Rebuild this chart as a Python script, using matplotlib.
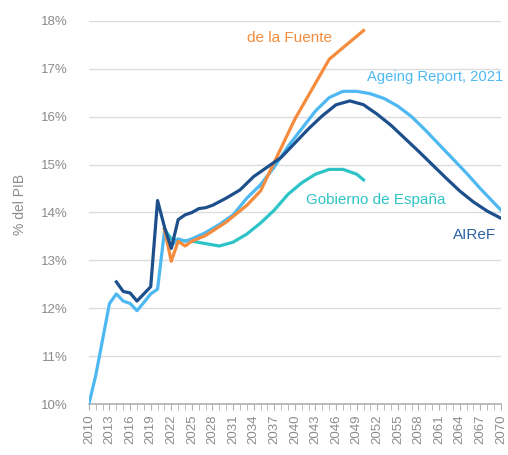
import matplotlib
matplotlib.use("Agg")
import matplotlib.pyplot as plt
from matplotlib.ticker import MultipleLocator, FuncFormatter

plt.rcParams['font.family'] = ['Liberation Sans', 'DejaVu Sans']

# Ageing Report, 2021
years_ar = [2010, 2011, 2012, 2013, 2014, 2015, 2016, 2017, 2018, 2019, 2020, 2021,
            2022, 2023, 2024, 2025, 2027, 2029, 2031, 2033, 2035, 2037, 2039, 2041,
            2043, 2045, 2047, 2049, 2051, 2053, 2055, 2057, 2059, 2061, 2063, 2065,
            2067, 2069, 2070]
vals_ar = [10.0, 10.6, 11.35, 12.1, 12.3, 12.15, 12.1, 11.95, 12.12, 12.3, 12.4, 13.6,
           13.3, 13.45, 13.4, 13.45, 13.58, 13.75, 13.95, 14.3, 14.58, 14.95, 15.38, 15.75,
           16.12, 16.4, 16.53, 16.53, 16.48, 16.38, 16.22, 16.0, 15.72, 15.42, 15.12, 14.82,
           14.5, 14.2, 14.05]

# AIReF
years_airef = [2014, 2015, 2016, 2017, 2018, 2019, 2020, 2021, 2022, 2023, 2024, 2025,
               2026, 2027, 2028, 2030, 2032, 2034, 2036, 2038, 2040, 2042, 2044, 2046,
               2048, 2050, 2052, 2054, 2056, 2058, 2060, 2062, 2064, 2066, 2068, 2070]
vals_airef = [12.55, 12.35, 12.32, 12.15, 12.3, 12.45, 14.25, 13.7, 13.25, 13.85, 13.95, 14.0,
              14.08, 14.1, 14.15, 14.3, 14.47, 14.75, 14.95, 15.15, 15.45, 15.75, 16.02, 16.25,
              16.33, 16.25, 16.05, 15.82, 15.55, 15.28, 15.0, 14.72, 14.45, 14.22, 14.03, 13.88]

# de la Fuente
years_fu = [2021, 2022, 2023, 2024, 2025, 2027, 2030, 2033, 2035, 2040, 2045, 2050]
vals_fu = [13.65, 12.98, 13.4, 13.3, 13.4, 13.52, 13.8, 14.15, 14.45, 15.95, 17.2, 17.8]

# Gobierno de España
years_gob = [2021, 2022, 2023, 2025, 2027, 2029, 2031, 2033, 2035, 2037, 2039, 2041,
             2043, 2045, 2047, 2049, 2050]
vals_gob = [13.65, 13.45, 13.42, 13.4, 13.35, 13.3, 13.38, 13.55, 13.78, 14.05, 14.38, 14.62,
            14.8, 14.9, 14.9, 14.8, 14.68]

c_ar = '#4db8f2'
c_airef = '#1d4f8c'
c_fu = '#f58b3c'
c_gob = '#2ec3c6'
grey = '#8c8c8c'

fig = plt.figure(figsize=(5.08, 4.55), dpi=100)
ax = fig.add_axes([0.175, 0.112, 0.811, 0.842])

lw = 2.3
ax.plot(years_gob, vals_gob, color=c_gob, lw=lw, zorder=3)
ax.plot(years_ar, vals_ar, color=c_ar, lw=lw, zorder=4)
ax.plot(years_fu, vals_fu, color=c_fu, lw=lw, zorder=5)
ax.plot(years_airef, vals_airef, color=c_airef, lw=lw, zorder=6)

ax.text(2033.0, 17.65, 'de la Fuente', color=c_fu, fontsize=11, va='center')
ax.text(2050.5, 16.83, 'Ageing Report, 2021', color=c_ar, fontsize=10.6, va='center',
        clip_on=False)
ax.text(2041.6, 14.27, 'Gobierno de España', color=c_gob, fontsize=11, va='center')
ax.text(2063.0, 13.54, 'AIReF', color='#2f62a3', fontsize=11, va='center')

ax.set_xlim(2010, 2070)
ax.set_ylim(10, 18)
ax.yaxis.set_major_locator(MultipleLocator(1))
ax.yaxis.set_major_formatter(FuncFormatter(lambda v, p: f'{v:.0f}%'))
ax.xaxis.set_major_locator(MultipleLocator(3))
ax.xaxis.set_minor_locator(MultipleLocator(1))

ax.grid(axis='y', color='#dcdcdc', lw=1)
ax.set_axisbelow(True)
for s in ['top', 'right', 'left']:
    ax.spines[s].set_visible(False)
ax.spines['bottom'].set_color('#b0b0b0')
ax.spines['bottom'].set_linewidth(1.2)

ax.tick_params(axis='y', length=0, pad=15, labelsize=9.5, labelcolor=grey)
ax.tick_params(axis='x', which='both', direction='out', color='#b0b0b0', labelsize=9.5,
               labelcolor=grey, rotation=90)
ax.tick_params(axis='x', which='major', length=4)
ax.tick_params(axis='x', which='minor', length=4)

ax.set_ylabel('% del PIB', fontsize=10, color=grey)
ax.yaxis.set_label_coords(-0.15, 0.52)

fig.savefig('out.png', dpi=100)
